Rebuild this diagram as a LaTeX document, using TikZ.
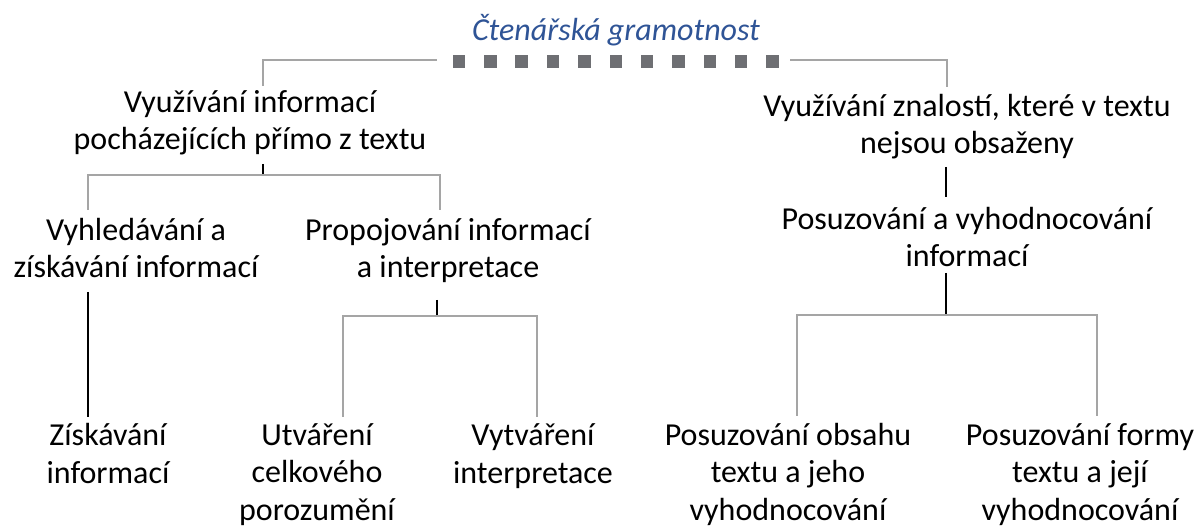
\documentclass[tikz,border=0pt]{standalone}
\usepackage{fontspec}
\setmainfont{Carlito}
\definecolor{titleblue}{RGB}{47,84,150}
\definecolor{linegray}{RGB}{165,165,165}
\definecolor{sqgray}{RGB}{110,111,115}
\begin{document}
\begin{tikzpicture}[x=1pt,y=-1pt,
 lbl/.style={align=center,inner sep=0,anchor=base,font=\fontsize{32}{37.5}\selectfont},
 gline/.style={draw=linegray,line width=2pt},
 bline/.style={draw=black,line width=1.6pt},
 sq/.style={fill=sqgray,minimum size=12.5pt,inner sep=0}]
\useasboundingbox (0,0) rectangle (1200,526);
\node[lbl,font=\fontsize{32}{37.5}\selectfont\itshape,text=titleblue] (title) at (616,41) {Čtenářská gramotnost};
\foreach \i in {0,...,10} \node[sq] (s\i) at (459+31.35*\i,61.5) {};
% text nodes (anchor = baseline of last line)
\node[lbl] (n1) at (250,150) {Využívání informací\\pocházejících přímo z textu};
\node[lbl] (n2) at (967,154) {Využívání znalostí, které v textu\\nejsou obsaženy};
\node[lbl] (n11) at (136,278) {Vyhledávání a\\získávání informací};
\node[lbl] (n12) at (448,278) {Propojování informací\\a interpretace};
\node[lbl] (n21) at (967,267) {Posuzování a vyhodnocování\\informací};
\node[lbl] (n111) at (108,483) {Získávání\\informací};
\node[lbl] (n121) at (317,520) {Utváření\\celkového\\porozumění};
\node[lbl] (n122) at (533,483) {Vytváření\\interpretace};
\node[lbl] (n211) at (788,520) {Posuzování obsahu\\textu a jeho\\vyhodnocování};
\node[lbl] (n212) at (1080,520) {Posuzování formy\\textu a její\\vyhodnocování};
% coordinates
\coordinate (tl) at (263,60);
\coordinate (tlb) at (437,60);
\coordinate (trb) at (790,60);
\coordinate (tr) at (947,60);
\coordinate (n1in) at (263,86);
\coordinate (n2in) at (947,87);
\coordinate (n1out) at (263,164);
\coordinate (b1) at (263,175);
\coordinate (b1l) at (88,175);
\coordinate (b1r) at (440,175);
\coordinate (n11in) at (88,210);
\coordinate (n12in) at (440,210);
\coordinate (n11out) at (88,292);
\coordinate (n111in) at (88,417);
\coordinate (n12out) at (437,300);
\coordinate (b2) at (437,316);
\coordinate (b2l) at (343,316);
\coordinate (b2r) at (537,316);
\coordinate (n121in) at (343,417);
\coordinate (n122in) at (537,417);
\coordinate (n2out) at (946,167);
\coordinate (n21in) at (946,197);
\coordinate (n21out) at (946,273);
\coordinate (b3) at (946,315);
\coordinate (b3l) at (797,315);
\coordinate (b3r) at (1097,315);
\coordinate (n211in) at (797,416);
\coordinate (n212in) at (1097,416);
% connectors
\draw[gline] (n1in) -- (tl) -- (tlb);
\draw[gline] (n2in) -- (tr) -- (trb);
\draw[bline] (n1out) -- (b1);
\draw[gline] (n11in) -- (b1l) -- (b1r) -- (n12in);
\draw[bline] (n11out) -- (n111in);
\draw[bline] (n12out) -- (b2);
\draw[gline] (n121in) -- (b2l) -- (b2r) -- (n122in);
\draw[bline] (n2out) -- (n21in);
\draw[bline] (n21out) -- (b3);
\draw[gline] (n211in) -- (b3l) -- (b3r) -- (n212in);
\end{tikzpicture}
\end{document}
